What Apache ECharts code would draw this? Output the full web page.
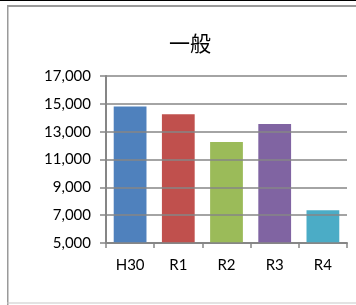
<!DOCTYPE html>
<html>
<head>
<meta charset="utf-8">
<script src="https://cdn.jsdelivr.net/npm/echarts@6/dist/echarts.min.js"></script>
<style>
  html, body { margin: 0; padding: 0; background: #fff; }
  #chart { width: 356px; height: 305px; }
</style>
</head>
<body>
<div id="chart"></div>
<script>
// 年度ごとの件数
const categories = ['H30', 'R1', 'R2', 'R3', 'R4']
const values = [14800, 14250, 12250, 13550, 7350]
const barColors = ['#4F81BD', '#C0504D', '#9BBB59', '#8064A2', '#4BACC6']
const yMin = 5000
const yMax = 17000
const yStep = 2000

const chart = echarts.init(document.getElementById('chart'))

chart.setOption({
  backgroundColor: '#fff',
  animation: false,
  title: {
    text: '一般',
    left: 185,
    top: 28,
    textAlign: 'center',
    textStyle: {
      fontFamily: 'Noto Sans CJK JP',
      fontSize: 21,
      fontWeight: 'normal',
      color: '#000',
    },
  },
  // 枠線
  graphic: [
    { type: 'rect', shape: { x: 0, y: 0, width: 356, height: 1 }, style: { fill: '#000' } },
    { type: 'rect', shape: { x: 7, y: 5, width: 349, height: 2 }, style: { fill: '#9a9a9a' } },
    { type: 'rect', shape: { x: 7, y: 5, width: 1.5, height: 300 }, style: { fill: '#9a9a9a' } },
    { type: 'rect', shape: { x: 7, y: 302.5, width: 349, height: 1 }, style: { fill: '#c8c8c8' } },
  ],
  grid: {
    left: 106,
    right: 9,
    top: 76,
    bottom: 62,
  },
  xAxis: {
    type: 'category',
    data: categories,
    axisLine: { lineStyle: { color: '#868686', width: 2 } },
    axisTick: { show: true, length: 5, lineStyle: { color: '#868686', width: 1.5 } },
    axisLabel: {
      margin: 15,
      fontFamily: 'Lato',
      fontSize: 15,
      color: '#000',
    },
  },
  yAxis: {
    type: 'value',
    min: yMin,
    max: yMax,
    interval: yStep,
    z: 5,
    axisLine: { show: true, lineStyle: { color: '#868686', width: 2 } },
    axisTick: { show: true, length: 6, lineStyle: { color: '#868686', width: 1.5 } },
    splitLine: { lineStyle: { color: '#868686', width: 1.5 } },
    axisLabel: {
      margin: 15,
      fontFamily: 'Lato',
      fontSize: 15,
      color: '#000',
      formatter: (v) => v.toLocaleString('en-US'),
    },
  },
  series: [{
    type: 'bar',
    data: values.map((v, i) => ({ value: v, itemStyle: { color: barColors[i] } })),
    barWidth: '68%',
  }],
})
</script>
</body>
</html>
